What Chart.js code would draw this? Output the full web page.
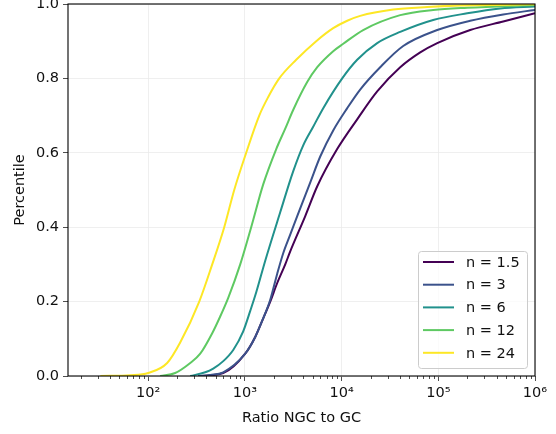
<!DOCTYPE html>
<html>
<head>
<meta charset="utf-8">
<script src="https://cdn.jsdelivr.net/npm/chart.js@4.4.0/dist/chart.umd.min.js"></script>
<style>
html, body { margin: 0; padding: 0; background: #fff; }
</style>
</head>
<body>
<canvas id="cdfChart" width="556" height="434"></canvas>
<script>
var seriesLabels = ["n = 1.5", "n = 3", "n = 6", "n = 12", "n = 24"];
var seriesColors = ["#440154", "#3b528b", "#21918c", "#5ec962", "#fde725"];
var xTicks = [1e2, 1e3, 1e4, 1e5, 1e6];
var yTicks = [0, 0.2, 0.4, 0.6, 0.8, 1.0];

// ratio NGC/GC and percentile
var ratio15 = [329, 597, 1007, 1278, 1546, 1828, 2158, 2612, 2941, 4207, 5598, 8995, 14490, 23330, 40360, 65000, 97500, 213800, 469000, 1000000];
var pct15   = [0, 0.008, 0.06, 0.105, 0.155, 0.2, 0.25, 0.30, 0.335, 0.43, 0.51, 0.61, 0.69, 0.765, 0.83, 0.87, 0.895, 0.93, 0.953, 0.975];

var ratio3 = [329, 438, 597, 1007, 1278, 1546, 1828, 2158, 2489, 2941, 3475, 4732, 6012, 8185, 11430, 15560, 25060, 43350, 97500, 213800, 469000, 1000000];
var pct3   = [0, 0.003, 0.01, 0.06, 0.105, 0.155, 0.205, 0.275, 0.33, 0.38, 0.43, 0.52, 0.59, 0.66, 0.72, 0.77, 0.83, 0.887, 0.93, 0.955, 0.972, 0.984];

var ratio6 = [272, 388, 470, 597, 757, 960, 1135, 1309, 1622, 2317, 3155, 4009, 5082, 6457, 10140, 14490, 23330, 40360, 88500, 199000, 436500, 1000000];
var pct6   = [0, 0.01, 0.02, 0.04, 0.07, 0.12, 0.175, 0.225, 0.31, 0.44, 0.55, 0.62, 0.67, 0.72, 0.80, 0.85, 0.895, 0.925, 0.957, 0.975, 0.988, 0.993];

var ratio12 = [133, 190, 272, 345, 459, 555, 672, 894, 1161, 1546, 2108, 2612, 3155, 4406, 5598, 8185, 10400, 16710, 40360, 88500, 199000, 1000000];
var pct12   = [0, 0.008, 0.035, 0.06, 0.115, 0.16, 0.21, 0.30, 0.4, 0.515, 0.61, 0.665, 0.715, 0.79, 0.83, 0.873, 0.893, 0.93, 0.97, 0.984, 0.99, 0.997];

var ratio24 = [32, 65, 100, 157, 214, 337, 459, 611, 775, 1031, 1406, 1742, 2265, 3390, 5460, 8185, 11430, 15560, 34200, 76700, 168300, 1000000];
var pct24   = [0, 0.002, 0.008, 0.035, 0.09, 0.2, 0.3, 0.4, 0.5, 0.6, 0.7, 0.75, 0.8, 0.85, 0.9, 0.935, 0.955, 0.968, 0.985, 0.992, 0.996, 0.999];

var allRatios = [ratio15, ratio3, ratio6, ratio12, ratio24];
var allPcts = [pct15, pct3, pct6, pct12, pct24];

var FONT = "'DejaVu Sans', sans-serif";
var sup = { "2": "\u00b2", "3": "\u00b3", "4": "\u2074", "5": "\u2075", "6": "\u2076" };

var datasets = seriesLabels.map(function (lab, i) {
  return {
    label: lab,
    data: allRatios[i].map(function (r, j) { return { x: r, y: allPcts[i][j] }; }),
    borderColor: seriesColors[i],
    backgroundColor: seriesColors[i],
    borderWidth: 2,
    pointRadius: 0,
    cubicInterpolationMode: 'monotone',
    order: seriesLabels.length - 1 - i
  };
});

// spines, minor ticks and legend box
var extras = {
  id: 'extras',
  afterDraw: function (chart) {
    var ctx = chart.ctx, a = chart.chartArea, xs = chart.scales.x;
    ctx.save();
    // minor ticks
    ctx.strokeStyle = '#222';
    ctx.lineWidth = 0.8;
    for (var d = 10; d < 1e6; d *= 10) {
      for (var k = 2; k < 10; k++) {
        var v = k * d;
        if (v < xs.min || v > xs.max) continue;
        var px = Math.round(xs.getPixelForValue(v)) + 0.5;
        ctx.beginPath();
        ctx.moveTo(px, a.bottom);
        ctx.lineTo(px, a.bottom + 3);
        ctx.stroke();
      }
    }
    // frame
    ctx.strokeStyle = '#000';
    ctx.lineWidth = 1.1;
    ctx.strokeRect(a.left, a.top, a.right - a.left, a.bottom - a.top);

    // legend
    var w = 109, rowH = 22.7, h = 117;
    var bx = a.right - 8 - w, by = a.bottom - 8 - h;
    ctx.fillStyle = 'rgba(255,255,255,0.8)';
    ctx.strokeStyle = '#cccccc';
    ctx.lineWidth = 1;
    ctx.beginPath();
    ctx.roundRect(bx + 0.5, by + 0.5, w, h, 3);
    ctx.fill();
    ctx.stroke();
    ctx.font = '14.5px ' + FONT;
    ctx.textBaseline = 'middle';
    chart.data.datasets.forEach(function (ds, i) {
      var cy = by + 11 + i * rowH;
      ctx.strokeStyle = ds.borderColor;
      ctx.lineWidth = 2;
      ctx.beginPath();
      ctx.moveTo(bx + 5, cy);
      ctx.lineTo(bx + 36, cy);
      ctx.stroke();
      ctx.fillStyle = '#111';
      ctx.fillText(ds.label, bx + 48, cy + 1);
    });
    ctx.restore();
  }
};

new Chart(document.getElementById('cdfChart').getContext('2d'), {
  type: 'line',
  data: { datasets: datasets },
  options: {
    responsive: false,
    animation: false,
    layout: { padding: { left: 12, right: 21, top: 4, bottom: 7 } },
    plugins: { legend: { display: false }, tooltip: { enabled: false } },
    scales: {
      x: {
        type: 'logarithmic',
        min: 14.8,
        max: 1e6,
        afterBuildTicks: function (scale) {
          scale.ticks = xTicks.map(function (v) { return { value: v }; });
        },
        afterFit: function (scale) {
          scale.height = 51;
          scale.paddingLeft = 0;
          scale.paddingRight = 0;
        },
        grid: { color: '#ebebeb', lineWidth: 0.8, tickLength: 5, tickColor: '#222' },
        border: { display: false },
        ticks: {
          autoSkip: false,
          maxRotation: 0,
          padding: 4,
          color: '#111',
          font: { family: FONT, size: 14.5 },
          callback: function (v) {
            var e = Math.round(Math.log10(v));
            return '10' + sup[String(e)];
          }
        },
        title: {
          display: true,
          text: 'Ratio NGC to GC',
          color: '#111',
          padding: 0,
          font: { family: FONT, size: 14.5, lineHeight: 1.2 }
        }
      },
      y: {
        min: 0,
        max: 1,
        afterBuildTicks: function (scale) {
          scale.ticks = yTicks.map(function (v) { return { value: v }; });
        },
        afterFit: function (scale) {
          scale.width = 56;
          scale.paddingTop = 0;
          scale.paddingBottom = 0;
        },
        grid: { color: '#ebebeb', lineWidth: 0.8, tickLength: 5, tickColor: '#222' },
        border: { display: false },
        ticks: {
          padding: 4,
          color: '#111',
          font: { family: FONT, size: 14.5 },
          callback: function (v) { return Number(v).toFixed(1); }
        },
        title: {
          display: true,
          text: 'Percentile',
          color: '#111',
          padding: 0,
          font: { family: FONT, size: 14.5, lineHeight: 1.2 }
        }
      }
    }
  },
  plugins: [extras]
});
</script>
</body>
</html>
